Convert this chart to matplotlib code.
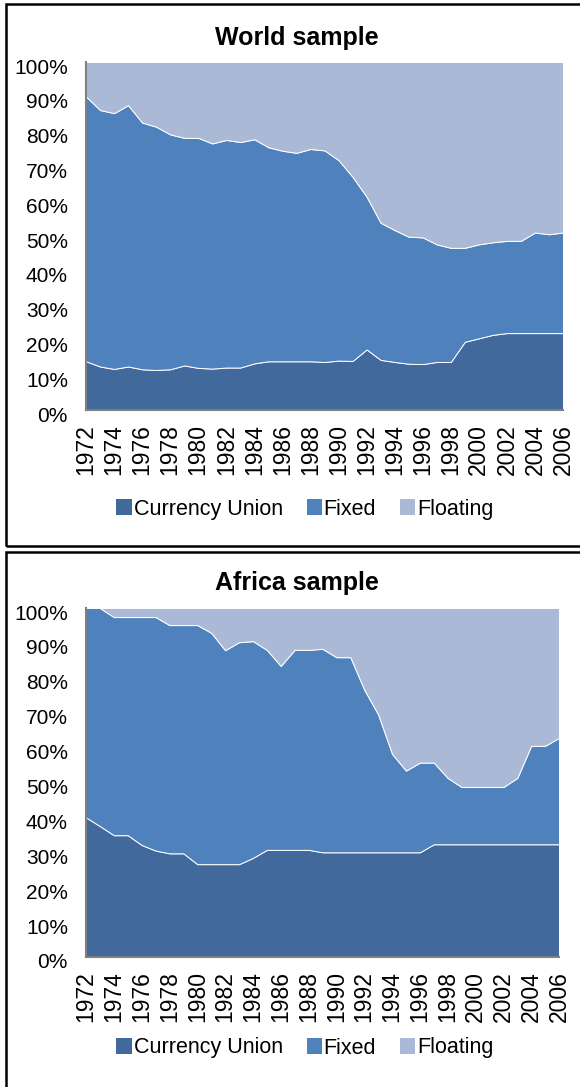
import matplotlib
matplotlib.use("Agg")
import matplotlib.pyplot as plt
from matplotlib.patches import Rectangle, Patch
from matplotlib.transforms import ScaledTranslation

plt.rcParams['font.family'] = ['Liberation Sans', 'DejaVu Sans']

years = list(range(1972, 2007))
series_names = ["Currency Union", "Fixed", "Floating"]
colors = ["#41699C", "#4F81BD", "#AAB9D6"]

# World sample, shares in %
world_cu = [14.0, 12.5, 11.8, 12.5, 11.7, 11.5, 11.7, 12.8, 12.1, 11.9,
            12.2, 12.2, 13.4, 14.0, 14.0, 14.0, 14.0, 13.8, 14.2, 14.1,
            17.4, 14.4, 13.8, 13.3, 13.2, 13.8, 13.8, 19.6, 20.6, 21.6,
            22.1, 22.1, 22.1, 22.1, 22.1]
world_fixed = [76.1, 73.7, 73.5, 75.1, 70.9, 69.9, 67.5, 65.4, 66.1, 64.7,
               65.4, 64.8, 64.4, 61.5, 60.5, 59.9, 61.0, 60.8, 57.6, 52.9,
               43.9, 39.4, 37.9, 36.5, 36.4, 33.8, 32.8, 27.0, 27.0, 26.6,
               26.5, 26.5, 28.9, 28.4, 28.9]
world_float = [9.9, 13.8, 14.7, 12.4, 17.4, 18.6, 20.8, 21.8, 21.8, 23.4,
               22.4, 23.0, 22.2, 24.5, 25.5, 26.1, 25.0, 25.4, 28.2, 33.0,
               38.7, 46.2, 48.3, 50.2, 50.4, 52.4, 53.4, 53.4, 52.4, 51.8,
               51.4, 51.4, 49.0, 49.5, 49.0]

# Africa sample, shares in %
africa_cu = [40.0, 37.5, 34.9, 34.9, 32.1, 30.5, 29.7, 29.7, 26.6, 26.6,
             26.6, 26.6, 28.4, 30.7, 30.7, 30.7, 30.7, 30.0, 30.0, 30.0,
             30.0, 30.0, 30.0, 30.0, 30.0, 32.3, 32.3, 32.3, 32.3, 32.3,
             32.3, 32.3, 32.3, 32.3, 32.3]
africa_fixed = [60.0, 62.5, 62.5, 62.5, 65.3, 66.9, 65.4, 65.4, 68.5, 66.3,
                61.3, 63.6, 62.1, 57.3, 52.7, 57.3, 57.3, 58.3, 55.9, 55.9,
                46.6, 39.5, 28.2, 23.4, 25.7, 23.4, 19.0, 16.4, 16.4, 16.4,
                16.4, 19.0, 28.2, 28.2, 30.5]
africa_float = [0.0, 0.0, 2.6, 2.6, 2.6, 2.6, 4.9, 4.9, 4.9, 7.1,
                12.1, 9.8, 9.5, 12.0, 16.6, 12.0, 12.0, 11.7, 14.1, 14.1,
                23.4, 30.5, 41.8, 46.6, 44.3, 44.3, 48.7, 51.3, 51.3, 51.3,
                51.3, 48.7, 39.5, 39.5, 37.2]

W, H = 580, 1087
fig = plt.figure(figsize=(W / 100, H / 100), dpi=100)


def fx(px):
    return px / W


def fy(py):
    return 1 - py / H


def panel(rect, title, title_y, legend_y, cu, fixed, flt):
    ax = fig.add_axes(rect)
    ax.stackplot(years, cu, fixed, flt, colors=colors,
                 edgecolor="white", linewidth=0.7)
    ax.set_xlim(1972, 2006)
    ax.set_ylim(0, 100)
    ax.set_xticks(range(1972, 2007, 2))
    ax.set_xticklabels([str(y) for y in range(1972, 2007, 2)], rotation=90)
    ax.set_yticks(range(0, 101, 10))
    ax.set_yticklabels([f"{v}%" for v in range(0, 101, 10)])
    ax.tick_params(axis="y", length=0, pad=13, labelsize=15)
    ax.tick_params(axis="x", length=0, pad=10, labelsize=16.5)
    off = ScaledTranslation(0, -4 / 100, fig.dpi_scale_trans)
    for lab in ax.get_yticklabels():
        lab.set_transform(lab.get_transform() + off)
    for s in ["top", "right"]:
        ax.spines[s].set_visible(False)
    for s in ["left", "bottom"]:
        ax.spines[s].set_color("#808080")
        ax.spines[s].set_linewidth(1.5)
    fig.text(fx(297), fy(title_y), title, ha="center", va="center",
             fontsize=18, fontweight="bold")
    handles = [Patch(facecolor=c, edgecolor="none") for c in colors]
    fig.legend(handles, series_names, loc="center",
               bbox_to_anchor=(fx(305), fy(legend_y)), ncol=3, frameon=False,
               fontsize=15.5, handlelength=0.7, handleheight=0.7,
               handletextpad=0.1, columnspacing=1.1)
    return ax


panel([fx(86), fy(410), fx(563) - fx(86), fy(62) - fy(410)],
      "World sample", 38, 509, world_cu, world_fixed, world_float)
panel([fx(86), fy(957), fx(559) - fx(86), fy(608) - fy(957)],
      "Africa sample", 583, 1048, africa_cu, africa_fixed, africa_float)

# panel borders
for top, bottom in [(4, 546), (552, 1100)]:
    fig.patches.append(Rectangle((fx(6), fy(bottom)), fx(600) - fx(6),
                                 fy(top) - fy(bottom), transform=fig.transFigure,
                                 fill=False, edgecolor="black", linewidth=1.8))

fig.savefig("out.png", dpi=100)
